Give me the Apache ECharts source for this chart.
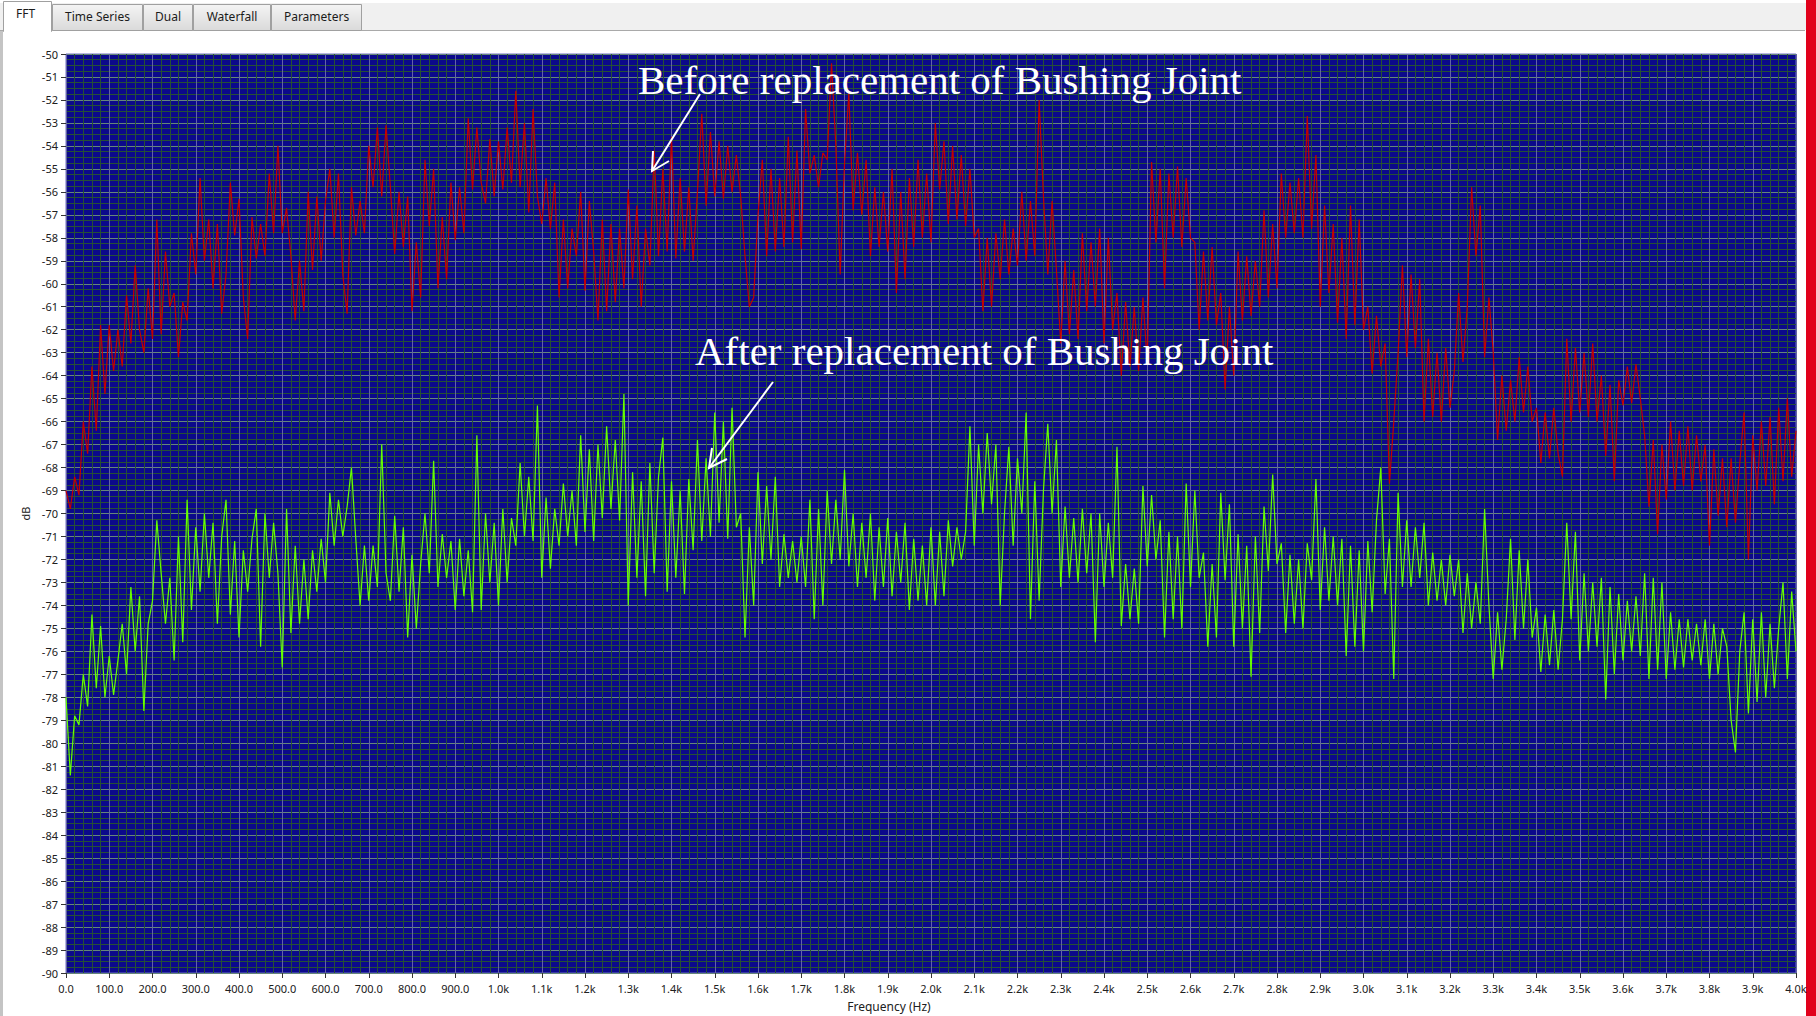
<!DOCTYPE html>
<html>
<head>
<meta charset="utf-8">
<script src="https://cdn.jsdelivr.net/npm/echarts@6/dist/echarts.min.js"></script>
<style>
  html, body { margin: 0; padding: 0; background: #fff; }
  #fft { width: 1816px; height: 1016px; }
</style>
</head>
<body>
<div id="fft"></div>
<script>
// spectrum bins, 10 Hz apart, 0 .. 4000 Hz
const binHz = 10
const tabNames = ['FFT', 'Time Series', 'Dual', 'Waterfall', 'Parameters']

// dB, before the bushing joint was replaced (red trace)
const beforeDb = [
  -69.0,-69.8,-68.4,-69.2,-66.0,-67.4,-63.6,-66.4,-61.8,-64.8,
  -61.8,-63.8,-62.0,-63.6,-60.5,-62.6,-59.2,-62.0,-63.0,-60.2,
  -62.4,-57.2,-62.2,-58.6,-61.0,-60.4,-63.2,-60.8,-61.6,-57.8,
  -59.6,-55.4,-59.0,-57.2,-60.2,-57.4,-61.3,-59.6,-55.6,-57.9,
  -56.3,-60.6,-62.4,-57.1,-58.9,-57.4,-58.8,-55.2,-57.8,-54.0,
  -57.8,-56.7,-58.8,-61.6,-59.0,-61.2,-56.0,-59.4,-56.2,-59.0,
  -56.4,-55.0,-58.0,-55.2,-59.6,-61.3,-55.8,-57.9,-56.4,-57.8,
  -54.0,-55.8,-53.2,-56.2,-53.1,-55.8,-58.7,-56.0,-58.4,-56.2,
  -61.2,-58.2,-60.6,-54.6,-57.5,-55.0,-60.2,-57.1,-59.8,-55.6,
  -58.1,-55.8,-57.8,-52.8,-55.9,-53.2,-55.6,-56.5,-53.7,-56.2,
  -53.8,-55.9,-53.2,-55.6,-51.6,-55.8,-53.0,-56.9,-52.4,-56.2,
  -57.4,-55.4,-57.6,-55.6,-60.6,-57.2,-60.2,-57.6,-58.8,-56.0,
  -60.3,-56.4,-58.6,-61.6,-57.2,-61.2,-57.4,-60.8,-57.6,-60.2,
  -55.9,-59.8,-56.6,-61.0,-57.6,-59.2,-54.2,-58.8,-55.0,-58.6,
  -53.6,-58.9,-55.4,-58.6,-55.8,-59.0,-56.0,-52.6,-56.6,-53.4,
  -56.2,-53.8,-56.3,-54.0,-56.0,-54.4,-56.2,-58.8,-61.0,-60.6,
  -57.0,-54.6,-58.8,-55.0,-58.6,-55.4,-58.4,-53.6,-58.2,-54.2,
  -58.5,-52.4,-55.2,-54.4,-55.8,-54.3,-54.6,-50.4,-54.0,-59.6,
  -54.8,-51.7,-56.8,-54.3,-57.0,-54.6,-58.8,-55.8,-58.4,-56.0,
  -58.6,-55.0,-60.4,-56.0,-59.8,-55.4,-58.4,-54.6,-58.0,-55.2,
  -58.2,-53.0,-55.9,-53.8,-57.4,-54.0,-57.2,-54.4,-57.5,-55.0,
  -58.0,-57.6,-61.2,-58.0,-61.0,-57.8,-59.8,-57.2,-59.6,-57.6,
  -59.2,-56.0,-59.0,-56.4,-58.8,-52.0,-56.2,-59.6,-56.4,-59.4,
  -62.6,-59.0,-62.2,-59.4,-62.4,-57.8,-61.2,-58.2,-61.0,-57.6,
  -62.6,-58.0,-62.0,-60.4,-64.0,-60.8,-63.6,-61.0,-63.8,-60.6,
  -63.4,-54.7,-58.2,-55.0,-60.2,-55.2,-58.0,-54.9,-58.4,-55.4,
  -58.0,-58.2,-62.0,-58.6,-61.6,-58.4,-61.8,-60.4,-64.6,-61.0,
  -64.0,-58.6,-61.6,-58.8,-61.4,-59.0,-61.0,-56.8,-60.6,-57.4,
  -60.2,-55.2,-58.0,-55.6,-57.8,-55.4,-58.0,-52.7,-57.6,-54.4,
  -61.0,-56.6,-60.4,-57.4,-61.7,-58.0,-62.4,-56.6,-61.8,-57.2,
  -62.0,-61.0,-63.9,-61.4,-63.6,-62.6,-68.7,-66.0,-63.0,-59.2,
  -63.2,-59.6,-62.8,-59.8,-66.0,-62.4,-65.8,-63.0,-66.0,-62.8,
  -65.4,-63.8,-60.4,-63.4,-61.0,-55.8,-58.8,-56.6,-63.2,-60.6,
  -63.0,-66.8,-64.0,-66.4,-64.2,-66.0,-63.2,-65.6,-63.6,-66.0,
  -65.4,-67.8,-65.6,-67.6,-65.4,-67.4,-68.4,-62.4,-66.0,-62.8,
  -65.6,-63.0,-65.8,-62.6,-66.0,-64.0,-67.5,-64.4,-68.6,-64.2,
  -65.3,-63.6,-65.2,-63.5,-65.0,-66.6,-69.7,-66.8,-70.9,-67.0,
  -69.4,-66.0,-69.0,-66.4,-68.8,-66.2,-69.0,-66.6,-68.6,-67.0,
  -71.4,-67.2,-70.1,-67.6,-70.6,-67.6,-70.4,-67.8,-65.6,-72.0,
  -66.6,-69.0,-66.0,-68.8,-65.8,-69.6,-65.4,-68.6,-65.0,-68.4,
  -66.4
]

// dB, after the bushing joint was replaced (green trace)
const afterDb = [
  -78.0,-81.4,-78.8,-79.2,-77.0,-78.4,-74.4,-77.6,-74.9,-78.0,
  -76.2,-77.9,-76.4,-74.8,-77.0,-73.2,-76.0,-73.6,-78.6,-74.8,
  -73.8,-70.3,-72.6,-74.8,-72.8,-76.4,-71.0,-75.6,-69.4,-74.2,
  -70.6,-73.4,-70.0,-72.8,-70.4,-74.8,-71.0,-69.4,-74.4,-71.2,
  -75.4,-71.6,-73.4,-71.1,-69.8,-75.8,-70.0,-72.8,-70.4,-72.6,
  -76.7,-69.8,-75.2,-71.4,-74.8,-72.0,-74.6,-71.6,-73.4,-71.1,
  -73.0,-69.1,-71.4,-69.4,-71.0,-69.7,-68.0,-71.1,-74.0,-71.4,
  -73.8,-71.4,-73.2,-67.0,-72.6,-73.8,-70.1,-73.4,-70.6,-75.4,
  -71.8,-75.0,-72.2,-70.0,-72.6,-67.7,-73.2,-70.9,-72.8,-71.2,
  -74.2,-71.1,-73.6,-71.6,-74.3,-66.6,-74.2,-70.0,-73.0,-70.4,
  -74.0,-69.8,-73.0,-70.2,-71.4,-67.8,-71.0,-68.4,-71.2,-65.3,
  -72.8,-69.3,-72.4,-69.8,-71.4,-68.7,-71.0,-69.0,-71.4,-66.6,
  -70.8,-67.2,-71.2,-67.0,-70.2,-66.2,-69.8,-66.8,-70.3,-64.8,
  -74.0,-68.2,-72.8,-68.6,-73.6,-67.8,-72.6,-68.4,-66.7,-73.4,
  -68.6,-72.8,-69.0,-73.5,-68.5,-71.6,-66.8,-71.2,-67.6,-71.0,
  -65.6,-70.4,-66.0,-71.1,-65.4,-70.6,-70.0,-75.4,-70.6,-74.0,
  -68.2,-72.2,-68.8,-72.0,-68.4,-73.2,-70.9,-72.8,-71.2,-73.0,
  -71.0,-73.2,-69.4,-74.6,-69.8,-74.0,-69.0,-72.2,-69.4,-72.0,
  -68.1,-72.3,-70.0,-73.2,-70.4,-72.8,-70.0,-73.8,-70.6,-73.2,
  -70.2,-73.6,-70.8,-73.0,-70.4,-74.2,-71.1,-73.8,-71.4,-74.0,
  -70.6,-74.0,-70.8,-73.6,-70.3,-72.3,-70.6,-72.0,-70.8,-66.2,
  -71.4,-67.0,-70.0,-66.5,-69.6,-67.0,-74.0,-70.0,-67.1,-71.4,
  -67.6,-70.0,-65.6,-74.6,-68.6,-73.8,-69.0,-66.1,-70.0,-66.8,
  -73.2,-69.7,-72.8,-70.2,-73.0,-69.8,-72.6,-70.0,-75.6,-70.0,
  -73.2,-70.4,-72.8,-67.1,-74.9,-72.2,-74.6,-72.4,-74.8,-68.8,
  -72.3,-69.2,-72.0,-70.3,-75.4,-70.8,-74.6,-71.0,-75.0,-68.7,
  -73.2,-69.0,-72.8,-71.7,-75.8,-72.2,-75.4,-69.1,-72.9,-69.6,
  -75.8,-70.9,-75.0,-71.4,-77.1,-71.0,-75.2,-69.7,-72.5,-68.3,
  -72.2,-71.3,-75.2,-71.8,-74.8,-72.0,-75.0,-71.3,-72.9,-68.5,
  -74.2,-70.6,-73.8,-71.0,-74.0,-71.1,-76.2,-71.4,-75.8,-71.6,
  -76.0,-71.2,-74.3,-70.3,-68.0,-73.5,-71.1,-77.2,-69.1,-73.2,
  -70.3,-73.2,-70.6,-72.8,-70.4,-74.0,-71.7,-73.8,-72.0,-74.0,
  -71.8,-73.6,-72.0,-75.2,-72.6,-75.0,-73.0,-74.8,-69.8,-74.0,
  -77.2,-74.3,-76.8,-74.6,-71.1,-75.5,-71.6,-75.0,-72.0,-75.4,
  -74.1,-76.9,-74.4,-76.6,-74.2,-76.8,-74.6,-70.4,-74.6,-70.8,
  -76.4,-72.6,-76.0,-73.0,-75.8,-72.8,-78.1,-73.2,-77.0,-73.5,
  -76.4,-73.8,-76.0,-73.6,-76.2,-72.6,-77.2,-72.8,-76.8,-73.0,
  -77.2,-74.3,-76.8,-74.6,-76.7,-74.6,-76.4,-74.8,-76.6,-74.6,
  -77.2,-74.8,-77.0,-75.0,-75.8,-79.0,-80.4,-76.0,-74.3,-78.7,
  -74.6,-78.2,-74.3,-78.0,-74.8,-77.6,-75.0,-73.0,-77.2,-73.4,
  -76.0
]

const toPairs = arr => arr.map((v, i) => [i * binHz, v])

const fmtHz = v => v < 1000 ? v.toFixed(1) : (v / 1000).toFixed(1) + 'k'

const uiFont = '"Noto Sans", "DejaVu Sans", sans-serif'

function tabGraphics () {
  const edges = [3, 52, 143, 193, 271, 362]
  const els = [
    { type: 'rect', shape: { x: 0, y: 3, width: 1806, height: 27 }, style: { fill: '#f0f0f0' }, silent: true },
    { type: 'line', shape: { x1: 0, y1: 30.5, x2: 1805, y2: 30.5 }, style: { stroke: '#a9a9a9', lineWidth: 1 } },
    { type: 'rect', shape: { x: 0, y: 31, width: 3, height: 985 }, style: { fill: '#c4c4c4' } },
    { type: 'rect', shape: { x: 1806, y: 0, width: 10, height: 1016 }, style: { fill: '#e1001b' } }
  ]
  tabNames.forEach((name, i) => {
    const x0 = edges[i], x1 = edges[i + 1]
    const selected = i === 0
    els.push({
      type: 'rect',
      shape: { x: x0 + 0.5, y: selected ? 1.5 : 4.5, width: x1 - x0 - 1, height: selected ? 30 : 26 },
      style: {
        fill: selected ? '#ffffff' : new echarts.graphic.LinearGradient(0, 0, 0, 1, [
          { offset: 0, color: '#f4f4f4' }, { offset: 1, color: '#dadada' }
        ]),
        stroke: '#a0a0a0', lineWidth: 1
      }
    })
    els.push({
      type: 'text',
      x: (x0 + x1) / 2 - (selected ? 2 : 0), y: selected ? 13 : 16,
      style: {
        text: name, font: '12px ' + uiFont, fill: '#1b1b1b',
        align: 'center', verticalAlign: 'middle', textAlign: 'center', textVerticalAlign: 'middle'
      }
    })
  })
  // hide the bottom edge of the selected tab
  els.push({ type: 'rect', shape: { x: 4, y: 29, width: 47, height: 3 }, style: { fill: '#ffffff' } })
  return els
}

function noteGraphics () {
  const white = '#ffffff'
  const serif = '41px "Liberation Serif", "DejaVu Serif", serif'
  const note = (text, x, y) => ({
    type: 'text', x, y, z: 100,
    style: { text, font: serif, fill: white, align: 'left', verticalAlign: 'middle', textAlign: 'left', textVerticalAlign: 'middle' }
  })
  const arrow = (x1, y1, x2, y2, b1, b2) => ([
    { type: 'line', z: 100, shape: { x1, y1, x2, y2 }, style: { stroke: white, lineWidth: 2 } },
    { type: 'polyline', z: 100, shape: { points: [b1, [x2, y2], b2] }, style: { stroke: white, lineWidth: 2, fill: null } }
  ])
  return [
    note('Before replacement of Bushing Joint', 638, 80),
    note('After replacement of Bushing Joint', 695, 351),
    ...arrow(700, 94, 652, 171, [653, 151], [669, 161]),
    ...arrow(773, 382, 709, 468, [712, 448], [727, 459]),
    // x axis title sits left of the plot centre in the original
    {
      type: 'text', x: 889, y: 1006,
      style: { text: 'Frequency (Hz)', font: '12px ' + uiFont, fill: '#202020', align: 'center', verticalAlign: 'middle', textAlign: 'center', textVerticalAlign: 'middle' }
    }
  ]
}

const chart = echarts.init(document.getElementById('fft'), null, { renderer: 'svg' })

const labelFont = { fontFamily: uiFont, fontSize: 11, color: '#202020' }

const option = {
  animation: false,
  backgroundColor: '#ffffff',
  grid: {
    left: 66, right: 20, top: 54, bottom: 43,
    show: true, backgroundColor: '#0b098b', borderColor: '#6e6ec4', borderWidth: 1
  },
  xAxis: {
    type: 'value', min: 0, max: 4000, interval: 100,
    axisLine: { show: false },
    axisTick: { show: true, length: 5, lineStyle: { color: '#333' } },
    axisLabel: { ...labelFont, margin: 10, formatter: fmtHz, showMinLabel: true, showMaxLabel: true },
    splitLine: { show: true, lineStyle: { color: '#6464a4', width: 1 } },
    minorTick: { show: false, splitNumber: 5 },
    minorSplitLine: { show: true, lineStyle: { color: '#264f36', width: 1 } }
  },
  yAxis: {
    type: 'value', min: -90, max: -50, interval: 1,
    name: 'dB', nameLocation: 'middle', nameGap: 35, nameRotate: 90,
    nameTextStyle: { fontFamily: uiFont, fontSize: 11, color: '#202020' },
    axisLine: { show: false },
    axisTick: { show: true, length: 5, lineStyle: { color: '#333' } },
    axisLabel: { ...labelFont, margin: 8, showMinLabel: true, showMaxLabel: true },
    splitLine: { show: true, lineStyle: { color: '#66867a', width: 1 } },
    minorTick: { show: false, splitNumber: 4 },
    minorSplitLine: { show: true, lineStyle: { color: '#264f36', width: 1 } }
  },
  series: [
    {
      name: 'Before', type: 'line', data: toPairs(beforeDb),
      showSymbol: false, symbol: 'none', silent: true,
      lineStyle: { color: '#c40000', width: 1.2 }
    },
    {
      name: 'After', type: 'line', data: toPairs(afterDb),
      showSymbol: false, symbol: 'none', silent: true,
      lineStyle: { color: '#66ff00', width: 1.2 }
    }
  ],
  graphic: [...tabGraphics(), ...noteGraphics()]
}

chart.setOption(option)
</script>
</body>
</html>
